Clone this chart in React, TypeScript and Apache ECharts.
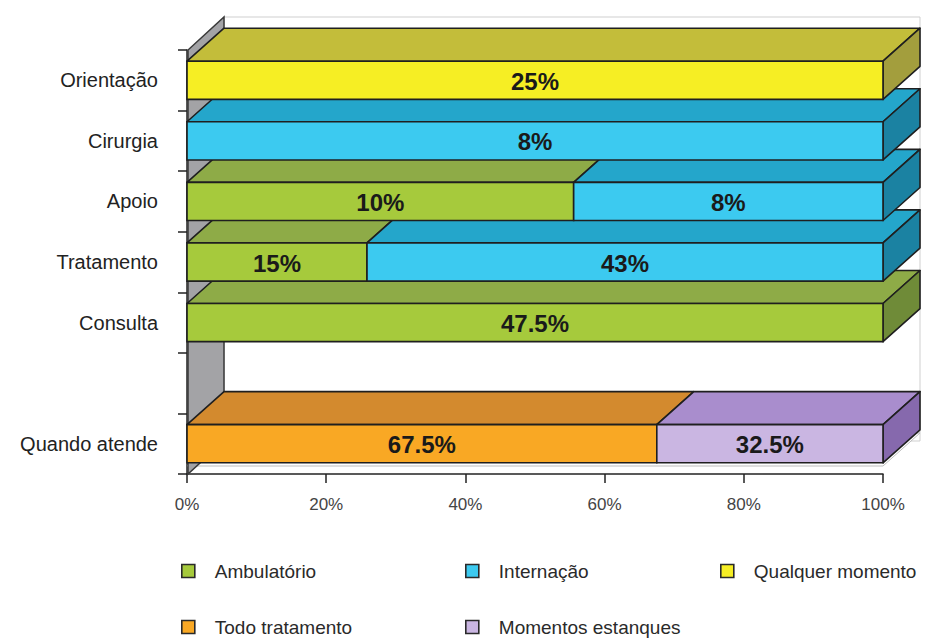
import React, { useEffect, useRef } from "react";
import * as echarts from "echarts";

const categories = ["Quando atende", "", "Consulta", "Tratamento", "Apoio", "Cirurgia", "Orientação"];
const seriesNames = ["Ambulatório", "Internação", "Qualquer momento", "Todo tratamento", "Momentos estanques"];
const ambulatorio = [null, null, 47.5, 15, 10, null, null];
const internacao = [null, null, null, 43, 8, 8, null];
const qualquerMomento = [null, null, null, null, null, null, 25];
const todoTratamento = [67.5, null, null, null, null, null, null];
const momentosEstanques = [32.5, null, null, null, null, null, null];
const xTicks = [0, 20, 40, 60, 80, 100];

const seriesValues = [ambulatorio, internacao, qualquerMomento, todoTratamento, momentosEstanques];
const faceColors = [
  { front: "#a6ca3c", top: "#8eab47", side: "#6f8b38" },
  { front: "#3ccaf0", top: "#24a6cb", side: "#1b82a2" },
  { front: "#f6ee24", top: "#c3bd3a", side: "#a39e3d" },
  { front: "#f9a824", top: "#d38a2e", side: "#a86c27" },
  { front: "#cab6e2", top: "#a98dcd", side: "#8669ad" },
];

const DX = 37;
const DY = 33;
const EDGE = "#1f1f1f";
const FONT = "'Liberation Sans', Arial, Helvetica, sans-serif";

function buildData() {
  const n = categories.length;
  const totals = categories.map((_, c) =>
    seriesValues.reduce((s, arr) => s + (arr[c] == null ? 0 : (arr[c] as number)), 0)
  );
  const cum = categories.map(() => 0);
  const lastIdx = categories.map((_, c) => {
    let li = -1;
    seriesValues.forEach((arr, s) => {
      if (arr[c] != null) li = s;
    });
    return li;
  });
  return seriesValues.map((arr, s) => {
    const data: any[] = [];
    for (let c = 0; c < n; c++) {
      const v = arr[c];
      if (v == null) continue;
      const start = (cum[c] / totals[c]) * 100;
      cum[c] += v as number;
      const end = (cum[c] / totals[c]) * 100;
      data.push([start, end, c, v, lastIdx[c] === s ? 1 : 0]);
    }
    return data;
  });
}

export default function App() {
  const ref = useRef<HTMLDivElement>(null);
  useEffect(() => {
    if (!ref.current) return;
    const chart = echarts.init(ref.current, null, { renderer: "svg" });
    const built = buildData();

    const barSeries = built.map((data, s) => ({
      type: "custom",
      name: seriesNames[s],
      z: 3,
      clip: false,
      itemStyle: { color: faceColors[s].front },
      encode: { x: [0, 1], y: 2 },
      data,
      renderItem: (params: any, api: any) => {
        const start = api.value(0);
        const end = api.value(1);
        const cat = api.value(2);
        const raw = api.value(3);
        const last = api.value(4);
        const p0 = api.coord([start, cat]);
        const p1 = api.coord([end, cat]);
        const band = api.size([0, 1])[1];
        const h = band * 0.63;
        const yt = p0[1] - h / 2;
        const yb = p0[1] + h / 2;
        const x0 = p0[0];
        const x1 = p1[0];
        const base = cat * 10;
        const col = faceColors[s];
        const children: any[] = [
          {
            type: "polygon",
            z2: base,
            shape: { points: [[x0, yt], [x1, yt], [x1 + DX, yt - DY], [x0 + DX, yt - DY]] },
            style: { fill: col.top, stroke: EDGE, lineWidth: 1.6, lineJoin: "round" },
          },
        ];
        if (last) {
          children.push({
            type: "polygon",
            z2: base + 1,
            shape: { points: [[x1, yt], [x1 + DX, yt - DY], [x1 + DX, yb - DY], [x1, yb]] },
            style: { fill: col.side, stroke: EDGE, lineWidth: 1.6, lineJoin: "round" },
          });
        }
        children.push({
          type: "rect",
          z2: base + 2,
          shape: { x: x0, y: yt, width: x1 - x0, height: h },
          style: { fill: col.front, stroke: EDGE, lineWidth: 1.6 },
        });
        children.push({
          type: "text",
          z2: base + 3,
          style: {
            text: raw + "%",
            x: (x0 + x1) / 2,
            y: p0[1] + 1,
            align: "center",
            verticalAlign: "middle",
            fill: "#1a1a1a",
            font: "bold 24px " + FONT,
          },
        });
        return { type: "group", children };
      },
    }));

    const frameSeries = {
      type: "custom",
      name: "frame",
      z: 1,
      clip: false,
      silent: true,
      data: [[0, 100]],
      renderItem: (params: any, api: any) => {
        const n = categories.length;
        const band = api.size([0, 1])[1];
        const bottom = api.coord([0, 0])[1] + band / 2;
        const top = api.coord([0, n - 1])[1] - band / 2;
        const xl = api.coord([api.value(0), 0])[0];
        const xr = api.coord([api.value(1), 0])[0];
        return {
          type: "group",
          children: [
            {
              type: "rect",
              z2: -30,
              shape: { x: xl + DX, y: top - DY, width: xr - xl, height: bottom - top },
              style: { fill: "#ffffff", stroke: "#cfcfcf", lineWidth: 1 },
            },
            {
              type: "polygon",
              z2: -25,
              shape: { points: [[xl, bottom - 8], [xr, bottom - 8], [xr + DX, bottom - 8 - DY], [xl + DX, bottom - 8 - DY]] },
              style: { fill: "#ffffff", stroke: "#bdbdbd", lineWidth: 1 },
            },
            {
              type: "polygon",
              z2: -20,
              shape: { points: [[xl + 1, bottom], [xl + 1, top], [xl + DX, top - DY], [xl + DX, bottom - DY]] },
              style: { fill: "#a3a3a6", stroke: "#3a3a3a", lineWidth: 1.5 },
            },
          ],
        };
      },
    };

    const legendPos = [
      { left: 181, top: 561 },
      { left: 465, top: 561 },
      { left: 720, top: 561 },
      { left: 181, top: 617 },
      { left: 465, top: 617 },
    ];

    chart.setOption({
      animation: false,
      backgroundColor: "#ffffff",
      grid: { left: 187, right: 48, top: 50, bottom: 167 },
      legend: seriesNames.map((name, i) => ({
        data: [name],
        left: legendPos[i].left,
        top: legendPos[i].top,
        padding: 0,
        icon: "rect",
        itemWidth: 13,
        itemHeight: 13,
        itemStyle: { borderColor: "#2a2a2a", borderWidth: 1.6 },
        textStyle: { fontSize: 19, color: "#2a2a2a", fontFamily: FONT, padding: [0, 0, 0, 15], lineHeight: 20 },
        selectedMode: false,
      })),
      xAxis: {
        type: "value",
        min: xTicks[0],
        max: xTicks[xTicks.length - 1],
        interval: 20,
        axisLine: { show: true, lineStyle: { color: "#222", width: 1.5 } },
        axisTick: { show: true, length: 9, lineStyle: { color: "#222", width: 1.5 } },
        splitLine: { show: false },
        axisLabel: { formatter: "{value}%", fontSize: 17, color: "#444", fontFamily: FONT, margin: 22 },
      },
      yAxis: {
        type: "category",
        data: categories,
        axisLine: { show: true, lineStyle: { color: "#222", width: 1.5 } },
        axisTick: { show: true, length: 9, lineStyle: { color: "#222", width: 1.5 } },
        axisLabel: { fontSize: 20, color: "#222", fontFamily: FONT, margin: 29 },
      },
      series: [frameSeries, ...barSeries],
    });
    return () => chart.dispose();
  }, []);
  return (
    <div
      ref={ref}
      style={{ position: "fixed", left: 0, top: 0, width: 931, height: 641, background: "#fff" }}
    />
  );
}
